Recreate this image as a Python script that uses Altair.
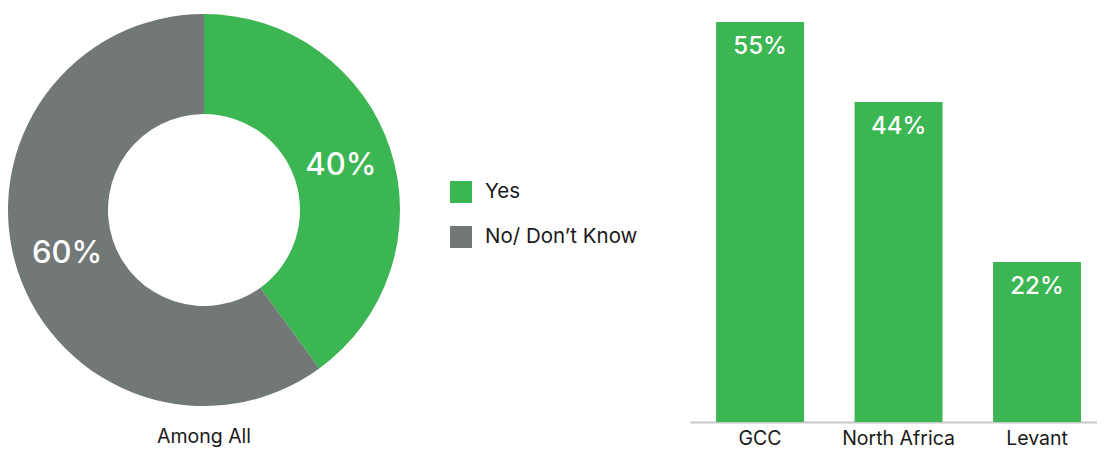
import altair as alt
import pandas as pd

donut_cats = ["Yes", "No/ Don\u2019t Know"]
donut_vals = [40, 60]
donut_caption = ["Among All"]
bar_cats = ["GCC", "North Africa", "Levant"]
bar_vals = [55, 44, 22]

GREEN = "#3cb553"
GRAY = "#727876"
FONT = "Inter"
TEXT = "#1a1a1a"

dd = pd.DataFrame({
    "cat": donut_cats,
    "val": donut_vals,
    "order": list(range(len(donut_cats))),
    "label": [f"{v}%" for v in donut_vals],
})

CX, CY = 196, 202

base = alt.Chart(dd).encode(
    theta=alt.Theta("val:Q", stack=True),
    order=alt.Order("order:Q"),
)

arc = base.mark_arc(radius=196, innerRadius=96).encode(
    color=alt.Color(
        "cat:N",
        sort=donut_cats,
        scale=alt.Scale(domain=donut_cats, range=[GREEN, GRAY]),
        legend=alt.Legend(
            title=None,
            orient="none",
            legendX=442,
            legendY=173,
            symbolType="square",
            symbolSize=484,
            symbolStrokeWidth=0,
            symbolOpacity=1,
            labelFontSize=20.5,
            labelFont=FONT,
            labelColor=TEXT,
            labelOffset=13,
            rowPadding=23,
            padding=0,
        ),
    ),
    x=alt.value(CX),
    y=alt.value(CY),
)

arc_text = base.mark_text(radius=144, fontSize=31, color="white", font=FONT,
                          fontWeight=500).encode(
    text="label:N",
    x=alt.value(CX),
    y=alt.value(CY),
)

cap = alt.Chart(pd.DataFrame({"t": donut_caption})).mark_text(
    fontSize=19.5, font=FONT, color=TEXT
).encode(text="t:N", x=alt.value(CX), y=alt.value(429))

donut = alt.layer(arc, arc_text, cap).properties(width=662, height=414)

bd = pd.DataFrame({
    "cat": bar_cats,
    "val": bar_vals,
    "label": [f"{v}%" for v in bar_vals],
})

bbase = alt.Chart(bd).encode(
    x=alt.X(
        "cat:N",
        sort=bar_cats,
        scale=alt.Scale(paddingInner=0.365, paddingOuter=0.152, align=0.62),
        axis=alt.Axis(
            title=None,
            labelAngle=0,
            domainColor="#c8c8c8",
            domainWidth=2,
            ticks=False,
            labelFontSize=19.5,
            labelFont=FONT,
            labelColor=TEXT,
            labelPadding=7,
        ),
    ),
    y=alt.Y("val:Q", scale=alt.Scale(domain=[0, 56.925], nice=False), axis=None),
)

bars = bbase.mark_bar(color=GREEN)
bar_text = bbase.mark_text(baseline="top", dy=13, color="white", fontSize=24,
                           font=FONT, fontWeight=500).encode(text="label:N")

barchart = alt.layer(bars, bar_text).properties(width=407, height=414)

chart = alt.hconcat(donut, barchart, spacing=20).properties(padding=0).configure_view(
    stroke=None
).configure_concat(spacing=20)

chart.save("out.html", embed_options={"renderer": "svg", "actions": False})
